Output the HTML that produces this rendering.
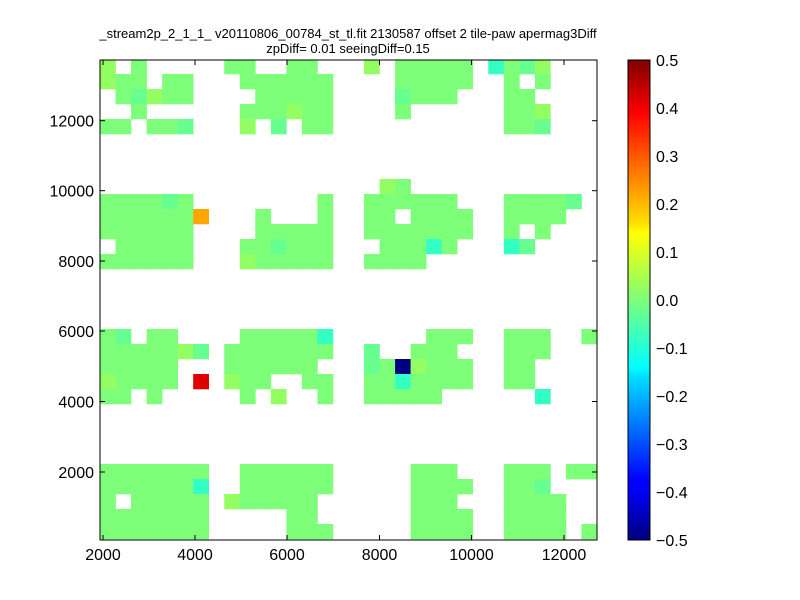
<!DOCTYPE html>
<html><head><meta charset="utf-8"><style>
body{margin:0;background:#fff;}
svg{display:block;font-family:"Liberation Sans",sans-serif;}
</style></head><body>
<svg id="s" width="800" height="600" xmlns="http://www.w3.org/2000/svg">
<defs>
<linearGradient id="jet" x1="0" y1="1" x2="0" y2="0">
<stop offset="0" stop-color="#00007f"/>
<stop offset="0.11" stop-color="#0000ff"/>
<stop offset="0.125" stop-color="#0000ff"/>
<stop offset="0.34" stop-color="#00dfff"/>
<stop offset="0.36" stop-color="#00ffff"/>
<stop offset="0.5" stop-color="#7dff7a"/>
<stop offset="0.64" stop-color="#ffff00"/>
<stop offset="0.66" stop-color="#ffe000"/>
<stop offset="0.89" stop-color="#ff0000"/>
<stop offset="1" stop-color="#7f0000"/>
</linearGradient>
<clipPath id="pc"><rect x="100" y="60" width="497" height="480"/></clipPath>
</defs>
<text x="348" y="38" font-size="13" text-anchor="middle">_stream2p_2_1_1_ v20110806_00784_st_tl.fit 2130587 offset 2 tile-paw apermag3Diff</text>
<text x="348" y="53" font-size="13" text-anchor="middle">zpDiff= 0.01 seeingDiff=0.15</text>
<g id="cells" clip-path="url(#pc)"></g>
<rect x="100" y="60" width="497" height="480" fill="none" stroke="#000" stroke-width="1"/>
<g id="ticks" stroke="#000" stroke-width="1"></g>
<g id="labels" font-size="16"></g>
<rect x="628" y="60" width="22" height="480" fill="url(#jet)" stroke="#000"/>
<g id="cb" font-size="16"></g>
</svg>
<script>
var rows=[
"y.g.....gg..gg...y.ggggg.cgty...",
"ygg.gg...gggggg....ggggg..g.g...",
".gtygg....ggggg....tggg...gg....",
"..g......gggygg....g......ggy...",
"gg.ggt...y.t.gg...........ggt...",
"................................",
"................................",
"................................",
"..................yg............",
"ggggtg........g..gggggg...ggggt.",
"ggggggo...g...g..gg.gggg..gggg..",
"gggggg....ggggg..ggggggg..g.g...",
".ggggg...ggtggg...gggcg...ct....",
"gggggg...yggggg..gggg...........",
"................................",
"................................",
"................................",
"................................",
"gt.gg....gggggc......ggg..ggg..g",
"gggggyt.ggggggg..t..ggg...ggg...",
"ggggg...gggggg...tgnyggg..gg....",
"ygggg.r.ygg..gg..ggcgggg..gg....",
"gg.g.....g.y..g..ggggg......c...",
"................................",
"................................",
"................................",
"................................",
"ggggggg..gggggg.....ggg...ggg.gg",
"ggggggc..gggggg.....gggg..ggt...",
"g.ggggg.yggggg......ggg...gggg..",
"ggggggg.....gg......gggg..gggg..",
"ggggggg.....ggg.....gggg..gggg.g"];
var col={g:"#7dff7a",y:"#94ff63",t:"#66ff90",c:"#33ffc4",o:"#ffa500",r:"#e00000",n:"#000080"};
var NS="http://www.w3.org/2000/svg";
function el(t,a,p,txt){var e=document.createElementNS(NS,t);for(var k in a)e.setAttribute(k,a[k]);if(txt!==undefined)e.textContent=txt;document.getElementById(p).appendChild(e);}
var cw=497/32;
for(var r=0;r<32;r++)for(var c=0;c<32;c++){var ch=rows[r][c];if(ch=='.')continue;
var x0=100+c*cw,y0=59+15*r;
el("rect",{x:x0.toFixed(2),y:y0,width:(cw+0.3).toFixed(2),height:15.3,fill:col[ch]},"cells");}
var xt=[[2000,103],[4000,195],[6000,287],[8000,379.5],[10000,471.5],[12000,564]];
xt.forEach(function(t){el("line",{x1:t[1],y1:540,x2:t[1],y2:535},"ticks");el("line",{x1:t[1],y1:60,x2:t[1],y2:65},"ticks");
el("text",{x:t[1],y:560,"text-anchor":"middle"},"labels",t[0]);});
var yt=[[2000,472],[4000,401.5],[6000,331],[8000,261],[10000,190.7],[12000,120.7]];
yt.forEach(function(t){el("line",{x1:100,y1:t[1],x2:105,y2:t[1]},"ticks");el("line",{x1:597,y1:t[1],x2:592,y2:t[1]},"ticks");
el("text",{x:94,y:t[1]+6,"text-anchor":"end"},"labels",t[0]);});
var lb=["0.5","0.4","0.3","0.2","0.1","0.0","\u22120.1","\u22120.2","\u22120.3","\u22120.4","\u22120.5"];
for(var i=0;i<11;i++){var y=60+48*i;
el("line",{x1:628,y1:y,x2:632,y2:y},"ticks");el("line",{x1:650,y1:y,x2:646,y2:y},"ticks");
el("text",{x:656,y:y+6},"cb",lb[i]);}
</script>
</body></html>
